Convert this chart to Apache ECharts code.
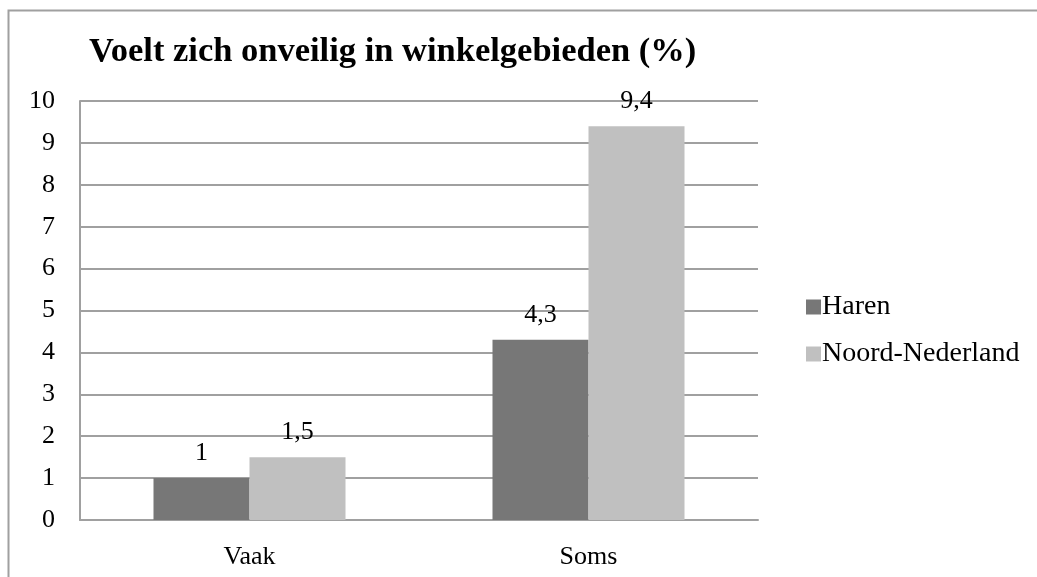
<!DOCTYPE html>
<html lang="nl">
<head>
    <meta charset="UTF-8">
    <script src="https://cdn.jsdelivr.net/npm/echarts@6/dist/echarts.min.js"></script>
    <title>Voelt zich onveilig</title>
    <style>
        html, body { margin: 0; padding: 0; background: #fff; }
    </style>
</head>
<body>
<div id="main" style="width: 1037px;height:577px;"></div>
<script type="text/javascript">
    var categories = ['Vaak', 'Soms'];
    var haren = [1, 4.3];
    var noordNederland = [1.5, 9.4];
    var seriesNames = ['Haren', 'Noord-Nederland'];

    var serif = '"Liberation Serif", "DejaVu Serif", serif';
    var myChart = echarts.init(document.getElementById('main'));

    // komma als decimaalteken
    function fmt(p) {
        return String(p.value).replace('.', ',');
    }

    var option = {
        animation: false,
        backgroundColor: '#ffffff',
        textStyle: { fontFamily: serif },
        graphic: [{
            type: 'rect',
            shape: { x: 8.5, y: 10.5, width: 1100, height: 700 },
            style: { fill: 'none', stroke: '#a0a0a0', lineWidth: 2 },
            silent: true
        }],
        title: {
            text: 'Voelt zich onveilig in winkelgebieden (%)',
            left: 84,
            top: 30,
            textStyle: { fontFamily: serif, fontWeight: 'bold', fontSize: 34.5, color: '#000' }
        },
        legend: {
            orient: 'vertical',
            left: 801,
            top: 288,
            itemWidth: 15,
            itemHeight: 15,
            itemGap: 19,
            icon: 'rect',
            textStyle: { fontFamily: serif, fontSize: 28, color: '#000', padding: [0, 0, 0, -4] },
            data: seriesNames
        },
        grid: { left: 80, top: 101, width: 678, height: 419, containLabel: false },
        xAxis: {
            type: 'category',
            data: categories,
            axisLine: { lineStyle: { color: '#a0a0a0', width: 2 } },
            axisTick: { show: false },
            axisLabel: { fontFamily: serif, fontSize: 26, color: '#000', margin: 24 }
        },
        yAxis: {
            type: 'value',
            min: 0,
            max: 10,
            interval: 1,
            axisLine: { show: true, lineStyle: { color: '#a0a0a0', width: 2 } },
            axisTick: { show: false },
            splitLine: { lineStyle: { color: '#a0a0a0', width: 2 } },
            axisLabel: { fontFamily: serif, fontSize: 26, color: '#000', margin: 25 }
        },
        series: [{
            name: seriesNames[0],
            type: 'bar',
            data: haren,
            barWidth: 96,
            barGap: '0%',
            itemStyle: { color: '#777777' },
            label: { show: true, position: 'top', distance: 12, formatter: fmt,
                fontFamily: serif, fontSize: 26, color: '#000' }
        }, {
            name: seriesNames[1],
            type: 'bar',
            data: noordNederland,
            barWidth: 96,
            barGap: '0%',
            itemStyle: { color: '#c0c0c0' },
            label: { show: true, position: 'top', distance: 12, formatter: fmt,
                fontFamily: serif, fontSize: 26, color: '#000' }
        }]
    };

    myChart.setOption(option);
</script>
</body>
</html>
